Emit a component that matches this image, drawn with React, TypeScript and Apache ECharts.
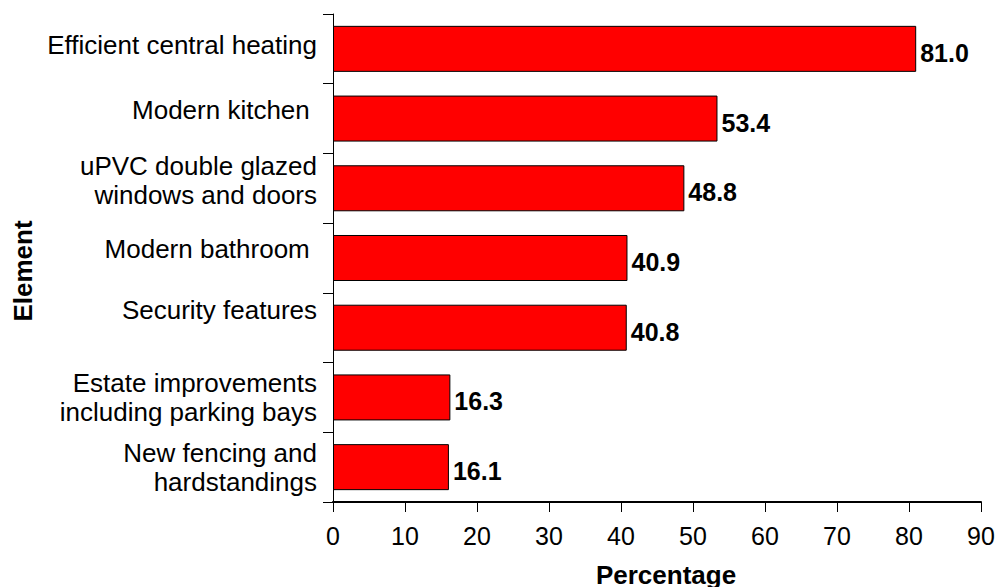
import React, { useEffect, useRef } from "react";
import * as echarts from "echarts";

const categories = [
  "Efficient central heating",
  "Modern kitchen ",
  "uPVC double glazed\nwindows and doors",
  "Modern bathroom ",
  "Security features",
  "Estate improvements\nincluding parking bays",
  "New fencing and\nhardstandings",
];
const values = [81.0, 53.4, 48.8, 40.9, 40.8, 16.3, 16.1];
const xTicks = [0, 10, 20, 30, 40, 50, 60, 70, 80, 90];

// vertical lift (px) of each category label, layout only
const labelLift = [4, 9, 8, 9, 18, 0, 0];

const FONT = "'Liberation Sans', Arial, sans-serif";

export default function App() {
  const ref = useRef<HTMLDivElement>(null);
  useEffect(() => {
    if (!ref.current) return;
    const chart = echarts.init(ref.current, null, { renderer: "svg" });
    const rich: Record<string, any> = {
      t: { fontFamily: FONT, fontSize: 26, color: "#000", lineHeight: 29 },
    };
    labelLift.forEach((l, i) => {
      rich["g" + i] = { fontSize: 1, lineHeight: Math.max(1, l * 2), color: "#000" };
    });
    chart.setOption({
      animation: false,
      backgroundColor: "#ffffff",
      textStyle: { fontFamily: FONT },
      grid: {
        left: 333,
        right: 17,
        top: 14,
        bottom: 85,
        containLabel: false,
        outerBoundsMode: "none",
      },
      xAxis: {
        type: "value",
        min: xTicks[0],
        max: xTicks[xTicks.length - 1],
        interval: 10,
        name: "Percentage",
        nameLocation: "middle",
        nameGap: 60,
        nameTextStyle: {
          fontFamily: FONT,
          fontSize: 26,
          fontWeight: "bold",
          color: "#000",
          padding: [0, 0, 0, 18],
        },
        axisLine: { show: true, lineStyle: { color: "#000", width: 2 } },
        axisTick: { show: true, length: 10, lineStyle: { color: "#000", width: 1 } },
        axisLabel: { fontFamily: FONT, fontSize: 25, color: "#000", margin: 21 },
        splitLine: { show: false },
      },
      yAxis: {
        type: "category",
        data: categories,
        inverse: true,
        name: "Element",
        nameLocation: "middle",
        nameGap: 297,
        nameRotate: 90,
        nameTextStyle: {
          fontFamily: FONT,
          fontSize: 26,
          fontWeight: "bold",
          color: "#000",
          padding: [0, 26, 0, 0],
        },
        axisLine: { show: true, lineStyle: { color: "#000", width: 1 } },
        axisTick: { show: true, length: 10, lineStyle: { color: "#000", width: 1 } },
        axisLabel: {
          fontFamily: FONT,
          fontSize: 26,
          color: "#000",
          margin: 16,
          lineHeight: 29,
          align: "right",
          formatter: (v: string, i: number) => {
            const idx = categories.indexOf(v);
            const k = idx >= 0 ? idx : i;
            const text = v.split("\n").map((s) => `{t|${s}}`).join("\n");
            return labelLift[k] > 0 ? text + `\n{g${k}| }` : text;
          },
          rich,
        },
      },
      series: [
        {
          type: "bar",
          data: values,
          barCategoryGap: "34%",
          itemStyle: { color: "#ff0000", borderColor: "#000", borderWidth: 1 },
          label: {
            show: true,
            position: "right",
            distance: 4,
            offset: [0, 4],
            formatter: (p: any) => Number(p.value).toFixed(1),
            fontFamily: FONT,
            fontSize: 25,
            fontWeight: "bold",
            color: "#000",
          },
        },
      ],
    });
    return () => chart.dispose();
  }, []);
  return <div ref={ref} style={{ width: 998, height: 587, position: "absolute", left: 0, top: 0 }} />;
}
